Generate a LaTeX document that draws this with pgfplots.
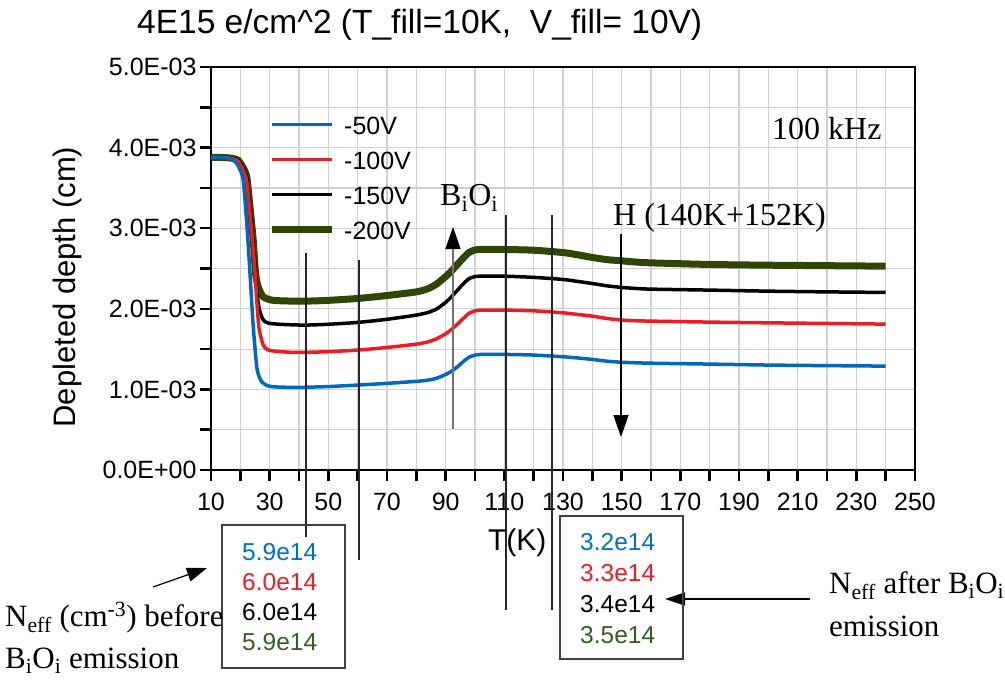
\documentclass[border=0pt]{standalone}
\usepackage{pgfplots}
\pgfplotsset{compat=1.18}
\usepackage{pgfplotstable}
\usetikzlibrary{arrows.meta}
\usepackage{fontspec}
\setmainfont{Liberation Sans}
\newfontfamily\seriff{Liberation Serif}
\definecolor{cblue}{RGB}{0,104,189}
\definecolor{cred}{RGB}{237,28,36}
\definecolor{cgreen}{RGB}{50,68,6}
\definecolor{tgreen}{RGB}{56,92,36}
\definecolor{tblue}{RGB}{0,112,192}

\pgfplotstableread{
T d
10 3.878e-3
15 3.875e-3
17.5 3.85e-3
19 3.79e-3
20.2 3.70e-3
21 3.59e-3
22.2 3.06e-3
23.3 2.44e-3
24.4 1.78e-3
25.6 1.28e-3
26.4 1.16e-3
27.3 1.095e-3
29 1.05e-3
31 1.033e-3
35 1.027e-3
40 1.025e-3
50 1.035e-3
60 1.054e-3
70 1.075e-3
80 1.100e-3
84 1.115e-3
87 1.14e-3
90 1.185e-3
92 1.225e-3
94 1.28e-3
96 1.345e-3
98 1.40e-3
100 1.425e-3
102 1.434e-3
110 1.434e-3
120 1.426e-3
130 1.405e-3
135 1.39e-3
140 1.372e-3
145 1.35e-3
150 1.337e-3
155 1.33e-3
160 1.325e-3
180 1.314e-3
200 1.302e-3
220 1.295e-3
240 1.289e-3
}\blue

\pgfplotstableread{
T d
10 3.878e-3
15 3.876e-3
17.5 3.86e-3
19.3 3.83e-3
21 3.72e-3
22.2 3.58e-3
23.3 3.18e-3
24.4 2.75e-3
25.2 2.35e-3
25.6 2.10e-3
26.4 1.75e-3
27.8 1.55e-3
29 1.50e-3
30.7 1.479e-3
36 1.463e-3
40 1.458e-3
50 1.468e-3
60 1.488e-3
70 1.52e-3
80 1.562e-3
84 1.59e-3
87 1.63e-3
90 1.69e-3
92 1.745e-3
94 1.81e-3
96 1.88e-3
98 1.945e-3
100 1.975e-3
102 1.984e-3
110 1.984e-3
120 1.975e-3
130 1.95e-3
135 1.93e-3
140 1.909e-3
145 1.88e-3
150 1.86e-3
155 1.852e-3
160 1.847e-3
180 1.835e-3
200 1.826e-3
220 1.818e-3
240 1.81e-3
}\red

\pgfplotstableread{
T d
10 3.878e-3
15 3.876e-3
17.5 3.862e-3
19.3 3.838e-3
21 3.74e-3
22.2 3.62e-3
23.3 3.24e-3
24.4 2.83e-3
25.2 2.42e-3
25.6 2.22e-3
26.4 2.005e-3
27.5 1.88e-3
28.5 1.84e-3
30.1 1.818e-3
35 1.805e-3
42 1.798e-3
50 1.808e-3
60 1.831e-3
70 1.87e-3
80 1.922e-3
84 1.955e-3
87 2.0e-3
90 2.08e-3
92 2.15e-3
94 2.23e-3
96 2.31e-3
98 2.375e-3
100 2.40e-3
102 2.405e-3
110 2.405e-3
120 2.39e-3
130 2.364e-3
135 2.34e-3
140 2.314e-3
145 2.285e-3
150 2.265e-3
155 2.252e-3
160 2.244e-3
180 2.232e-3
200 2.219e-3
220 2.21e-3
240 2.203e-3
}\black

\pgfplotstableread{
T d
10 3.878e-3
15 3.876e-3
17.5 3.865e-3
19.3 3.843e-3
21 3.75e-3
22.2 3.636e-3
23.3 3.264e-3
24.4 2.852e-3
25.2 2.438e-3
26.1 2.273e-3
27.8 2.149e-3
30.7 2.108e-3
35 2.098e-3
42 2.095e-3
50 2.105e-3
60 2.128e-3
70 2.165e-3
80 2.21e-3
84 2.25e-3
87 2.31e-3
90 2.40e-3
92 2.47e-3
94 2.55e-3
96 2.63e-3
98 2.70e-3
100 2.73e-3
102 2.737e-3
110 2.736e-3
120 2.727e-3
130 2.698e-3
135 2.67e-3
140 2.637e-3
145 2.61e-3
150 2.595e-3
155 2.58e-3
160 2.57e-3
180 2.55e-3
200 2.541e-3
220 2.535e-3
240 2.529e-3
}\green

\begin{document}
\begin{tikzpicture}
\begin{axis}[
  at={(211pt,-470pt)}, anchor=south west,
  scale only axis, width=704pt, height=403pt,
  xmin=10, xmax=250, ymin=0, ymax=0.005,
  xtick={10,30,50,70,90,110,130,150,170,190,210,230,250},
  xticklabels={10,30,50,70,90,110,130,150,170,190,210,230,250},
  minor x tick num=1,
  ytick={0,0.001,0.002,0.003,0.004,0.005},
  yticklabels={0.0E+00,1.0E-03,2.0E-03,3.0E-03,4.0E-03,5.0E-03},
  minor y tick num=1,
  scaled y ticks=false,
  tick pos=left,
  tick align=outside,
  major tick length=11pt, minor tick length=11pt,
  every tick/.style={line width=2.5pt, black},
  grid=both,
  major grid style={line width=1.2pt, black!18},
  minor grid style={line width=1.2pt, black!18},
  axis line style={line width=2.5pt, black},
  tick label style={font=\fontsize{25}{30}\selectfont},
  xticklabel style={yshift=-9pt},
  xlabel={T(K)},
  ylabel={Depleted depth (cm)},
  xlabel style={font=\fontsize{30}{36}\selectfont, at={(axis description cs:0.435,-0.18)}, anchor=center},
  ylabel style={font=\fontsize{31}{37}\selectfont, at={(axis description cs:-0.204,0.454)}, anchor=center},
  legend style={draw=none, fill=none, at={(axis description cs:0.081,0.877)}, anchor=north west,
    inner sep=0pt, column sep=9pt, font=\fontsize{25}{30}\selectfont,
    nodes={inner sep=0pt, text height=17.5pt, text depth=17.5pt}},
  legend cell align=left,
  reverse legend,
  legend image code/.code={\draw[#1] (0pt,10pt) -- (60pt,10pt);},
]
\addplot[cgreen, line width=7pt, smooth, tension=0.4] table[x=T,y=d]{\green};
\addplot[black, line width=3.5pt, smooth, tension=0.4] table[x=T,y=d]{\black};
\addplot[cred, line width=3.5pt, smooth, tension=0.4] table[x=T,y=d]{\red};
\addplot[cblue, line width=3.5pt, smooth, tension=0.4] table[x=T,y=d]{\blue};
\legend{-200V,-150V,-100V,-50V}
\end{axis}

\begin{scope}[x=1pt,y=-1pt]
% title
\node[anchor=base west, inner sep=0pt, font=\fontsize{33.5}{40}\selectfont] at (137,33) {4E15 e/cm\textasciicircum 2 (T\_fill=10K,\ \ V\_fill= 10V)};
% annotation text in serif
\node[anchor=base west, inner sep=0pt, font=\seriff\fontsize{32}{38}\selectfont] at (772,139) {100 kHz};
\node[anchor=base west, inner sep=0pt, font=\seriff\fontsize{32}{38}\selectfont] at (440,205) {B\textsubscript{i}O\textsubscript{i}};
\node[anchor=base west, inner sep=0pt, font=\seriff\fontsize{32}{38}\selectfont] at (613,225) {H (140K+152K)};
% vertical lines
\draw[black!85, line width=1.3pt] (306,253) -- (306,537);
\draw[black!85, line width=1.3pt] (359,260) -- (359,560);
\draw[black!85, line width=1.3pt] (506,215) -- (506,610);
\draw[black!85, line width=1.3pt] (552,215) -- (552,610);
% arrows
\draw[black!55, line width=1.6pt, arrows={-{Triangle[length=22pt,width=15pt,fill=black,color=black]}}] (453,429) -- (453,227);
\draw[black, line width=1.5pt, -{Triangle[length=22pt,width=15pt]}] (621,234) -- (621,437);
\draw[black, line width=1.2pt, -{Triangle[length=20pt,width=14pt]}] (153,587) -- (207,568);
\draw[black, line width=1.2pt, -{Triangle[length=20pt,width=13pt]}] (810,599) -- (665,599);
% boxes
\draw[black!75, line width=1.3pt] (222,525) rectangle (345,668);
\draw[black!75, line width=1.3pt] (560,516) rectangle (683,659);
\begin{scope}[every node/.style={anchor=base west, inner sep=0pt, font=\fontsize{24.5}{29}\selectfont}]
\node[text=tblue] at (242,560) {5.9e14};
\node[text=cred] at (242,590) {6.0e14};
\node[text=black] at (242,620) {6.0e14};
\node[text=tgreen] at (242,650) {5.9e14};
\node[text=tblue] at (580,550) {3.2e14};
\node[text=cred] at (580,581) {3.3e14};
\node[text=black] at (580,612) {3.4e14};
\node[text=tgreen] at (580,643) {3.5e14};
\end{scope}
\begin{scope}[every node/.style={anchor=base west, inner sep=0pt, font=\seriff\fontsize{31}{37}\selectfont}]
\node at (5,626) {N\textsubscript{eff} (cm\textsuperscript{-3}) before};
\node at (5,668) {B\textsubscript{i}O\textsubscript{i} emission};
\node at (829,593) {N\textsubscript{eff} after B\textsubscript{i}O\textsubscript{i}};
\node at (829,636) {emission};
\end{scope}
\end{scope}
\pgfresetboundingbox
\useasboundingbox (0pt,0pt) rectangle (1005pt,-681pt);
\end{tikzpicture}
\end{document}
